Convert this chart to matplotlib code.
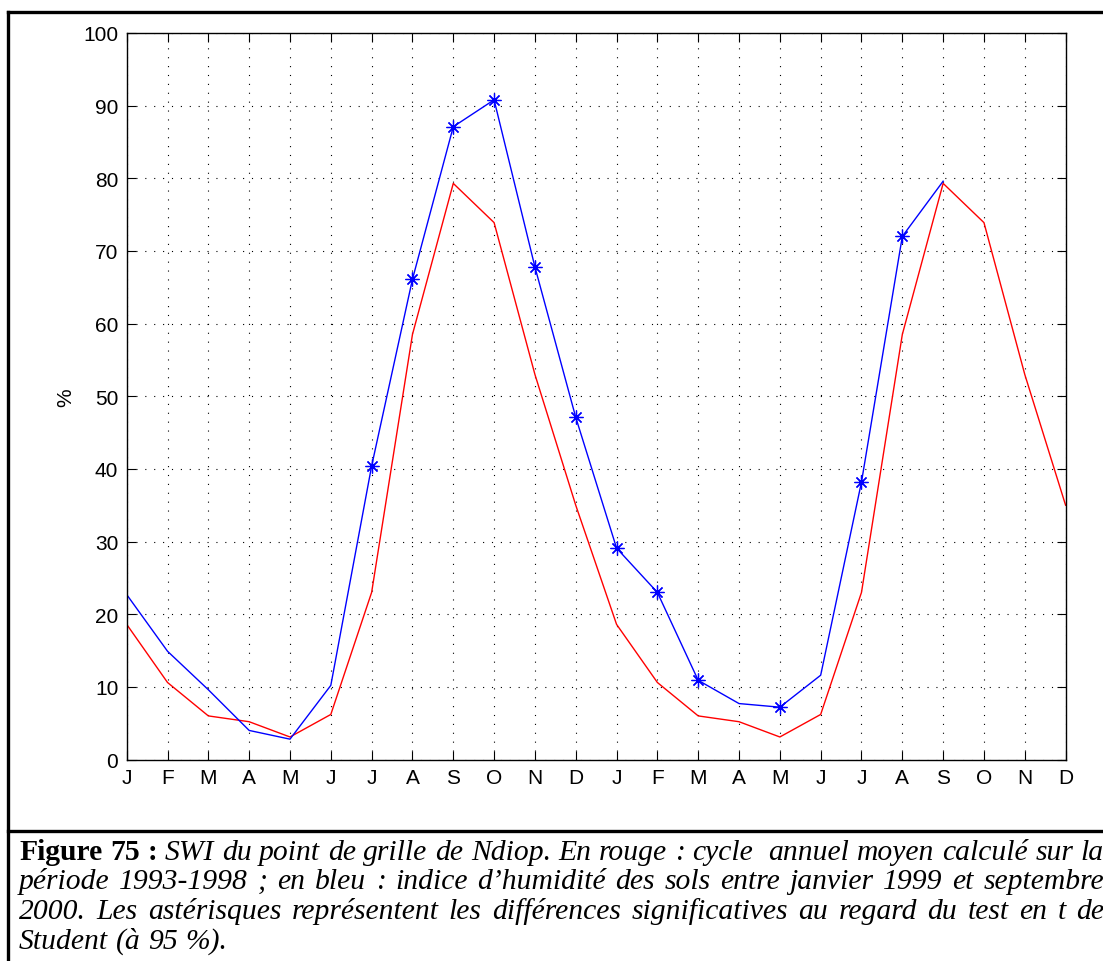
import matplotlib.pyplot as plt
import numpy as np
from matplotlib.lines import Line2D

# mean annual cycle 1993-1998 (red), shown over two years
climatology = [18.6, 10.6, 6.0, 5.2, 3.1, 6.2, 23.0, 58.5, 79.3, 73.9, 53.0, 35.0]
# soil wetness index, January 1999 - September 2000 (blue)
swi_1999_2000 = [22.7, 14.9, 9.6, 4.0, 2.8, 10.2, 40.4, 66.1, 87.1, 90.8, 67.8,
                 47.1, 29.1, 23.0, 10.9, 7.7, 7.2, 11.6, 38.2, 72.0, 79.6]
# months where the difference is significant (Student t test, 95 %)
significant = [6, 7, 8, 9, 10, 11, 12, 13, 14, 16, 18, 19]
month_labels = ["J", "F", "M", "A", "M", "J", "J", "A", "S", "O", "N", "D"] * 2

caption_label = "Figure 75 :"
caption_lines = [
    "SWI du point de grille de Ndiop. En rouge : cycle  annuel moyen calculé sur la",
    "période 1993-1998 ; en bleu : indice d’humidité des sols entre janvier 1999 et septembre",
    "2000. Les astérisques représentent les différences significatives au regard du test en t de",
    "Student (à 95 %).",
]

W, H = 1103, 962
fig = plt.figure(figsize=(W / 100, H / 100), dpi=100)
ax = fig.add_axes([126.7 / W, 1 - 760.5 / H, (1065.6 - 126.7) / W, (760.5 - 34) / H])

months = np.arange(1, 25)
ax.plot(months, climatology * 2, color="red", lw=1.0)
ax.plot(months[:len(swi_1999_2000)], swi_1999_2000, color="blue", lw=1.0,
        marker=(8, 2, 0), markevery=significant, markersize=10, markeredgewidth=0.9)

ax.set_xlim(1, 24)
ax.set_ylim(0, 100)
ax.set_xticks(months)
ax.set_xticklabels(month_labels)
ax.set_yticks(np.arange(0, 101, 10))
ax.set_ylabel("%", fontsize=15, family="Liberation Sans", labelpad=6)

ax.grid(True, linestyle=(0, (1, 7)), color="black", lw=0.8)
ax.tick_params(direction="in", length=6.5, width=0.8, top=True, right=True,
               labelsize=15, pad=6)
for lab in ax.get_xticklabels() + ax.get_yticklabels():
    lab.set_family("Liberation Sans")
for sp in ax.spines.values():
    sp.set_linewidth(1.0)

# frame of the figure and separator above the caption
frame = dict(color="black", lw=2.4, transform=fig.transFigure)
fig.add_artist(Line2D([7.5 / W, 1.01], [1 - 13 / H, 1 - 13 / H], **frame))
fig.add_artist(Line2D([7.5 / W, 7.5 / W], [1 - 13 / H, -0.01], **frame))
fig.add_artist(Line2D([7.5 / W, 1.01], [1 - 832 / H, 1 - 832 / H], **frame))

# justified caption
x_left, x_right = 19, 1104
baselines = [860, 889, 919, 949]
renderer = fig.canvas.get_renderer()


def make_word(word, bold, size):
    return fig.text(0, 0, word, fontsize=size, family="Liberation Serif",
                    weight="bold" if bold else "normal",
                    style="normal" if bold else "italic", va="baseline")


def line_tokens(i):
    tokens = [(w, False) for w in caption_lines[i].split(" ")]
    if i == 0:
        tokens = [(w, True) for w in caption_label.split(" ")] + tokens
    return tokens


# pick the font size so the longest justified line fills the width
base = 10
natural = []
for i in range(3):
    words = [make_word(w, b, base) for w, b in line_tokens(i)]
    space = make_word("a a", False, base).get_window_extent(renderer).width \
        - 2 * make_word("a", False, base).get_window_extent(renderer).width
    width = sum(t.get_window_extent(renderer).width for t in words) + space * (len(words) - 1)
    natural.append(width)
for t in list(fig.texts):
    t.remove()
size = base * (x_right - x_left) / max(natural)

for i, y in enumerate(baselines):
    words = [make_word(w, b, size) for w, b in line_tokens(i)]
    widths = [t.get_window_extent(renderer).width if t.get_text() else 0 for t in words]
    if i < 3:
        gap = (x_right - x_left - sum(widths)) / (len(words) - 1)
    else:
        gap = 0.25 * size * 100 / 72
    x = x_left
    for t, w in zip(words, widths):
        t.set_position((x / W, 1 - y / H))
        x += w + gap

fig.savefig("out.png", dpi=100)
